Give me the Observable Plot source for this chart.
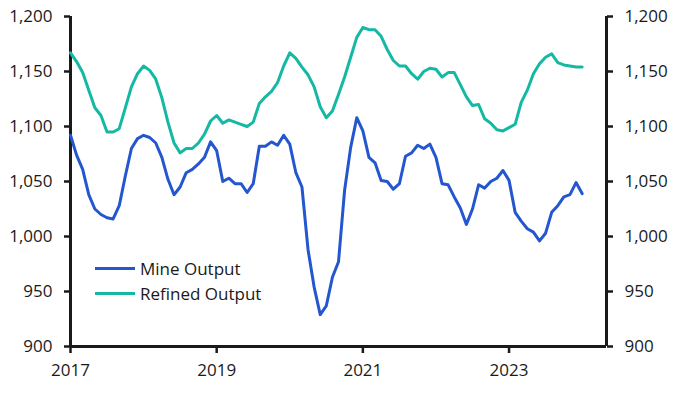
<!DOCTYPE html>
<html>
<head>
<meta charset="utf-8">
<script src="https://cdn.jsdelivr.net/npm/d3@7"></script>
<script src="https://cdn.jsdelivr.net/npm/@observablehq/plot@0.6"></script>
<style>
  html, body { margin: 0; padding: 0; background: #fff; }
  #wrap { position: relative; width: 681px; height: 393px; font-family: "Open Sans", sans-serif; }
  .leg { position: absolute; left: 95px; height: 24px; display: flex; align-items: center; font-size: 17px; color: #1a1a1a; white-space: nowrap; }
  .leg .sw { width: 40px; height: 3px; margin-right: 5px; }
</style>
</head>
<body>
<div id="wrap"></div>
<script>
// Monthly series, Jan 2017 .. Jan 2024
const startYear = 2017;
const seriesNames = ["Mine Output", "Refined Output"];
const seriesColors = ["#2356cf", "#15b8a3"];

const mine = [
  1092,1074,1061,1038,1025,1020,1017,1016,1028,1055,1080,1089,
  1092,1090,1085,1072,1052,1038,1045,1058,1061,1066,1072,1086,
  1078,1050,1053,1048,1048,1040,1048,1082,1082,1086,1083,1092,
  1084,1058,1045,988,954,929,937,963,977,1042,1081,1108,
  1096,1072,1067,1051,1050,1043,1048,1073,1076,1083,1080,1084,
  1072,1048,1047,1036,1026,1011,1025,1047,1044,1050,1053,1060,
  1051,1022,1014,1007,1004,996,1003,1022,1028,1036,1038,1049,
  1039
];

const refined = [
  1167,1159,1149,1133,1117,1110,1095,1095,1098,1117,1136,1148,
  1155,1151,1143,1126,1104,1085,1076,1080,1080,1085,1093,1105,
  1110,1103,1106,1104,1102,1100,1104,1121,1127,1132,1140,1155,
  1167,1162,1154,1147,1136,1118,1108,1114,1129,1145,1163,1181,
  1190,1188,1188,1182,1170,1160,1155,1155,1148,1143,1150,1153,
  1152,1145,1149,1149,1138,1127,1119,1120,1107,1103,1097,1096,
  1099,1102,1122,1133,1148,1157,1163,1166,1158,1156,1155,1154,
  1154
];

const xTicks = [2017, 2019, 2021, 2023];
const yTicks = [900, 950, 1000, 1050, 1100, 1150, 1200];
const xDomain = [2017, 2024 + 4 / 12];
const yDomain = [900, 1200];

const table = [];
mine.forEach((v, i) => table.push({t: startYear + i / 12, v, s: seriesNames[0]}));
refined.forEach((v, i) => table.push({t: startYear + i / 12, v, s: seriesNames[1]}));

const ink = "#1a1a1a";
const chart = Plot.plot({
  width: 681,
  height: 393,
  marginLeft: 70,
  marginRight: 75,
  marginTop: 16,
  marginBottom: 47,
  style: {fontFamily: "Open Sans, sans-serif", fontSize: "17px", color: ink, background: "#fff"},
  x: {type: "linear", domain: xDomain},
  y: {domain: yDomain},
  color: {domain: seriesNames, range: seriesColors},
  marks: [
    Plot.axisY({anchor: "left", ticks: yTicks, tickFormat: d3.format(","), tickSize: 6, tickPadding: 12, strokeWidth: 2.5, label: null}),
    Plot.axisY({anchor: "right", ticks: yTicks, tickFormat: d3.format(","), tickSize: 6, tickPadding: 12, strokeWidth: 2.5, label: null}),
    Plot.axisX({ticks: xTicks, tickFormat: d => String(d), tickSize: 7, tickPadding: 10, strokeWidth: 2.5, label: null}),
    Plot.ruleX(xDomain, {stroke: ink, strokeWidth: 3}),
    Plot.ruleY([yDomain[0]], {stroke: ink, strokeWidth: 3}),
    Plot.lineY(table, {x: "t", y: "v", z: "s", stroke: "s", strokeWidth: 3, strokeLinejoin: "round"})
  ]
});
const wrap = document.getElementById("wrap");
wrap.appendChild(chart);

const legTops = [256, 281];
seriesNames.forEach((name, i) => {
  const row = document.createElement("div");
  row.className = "leg";
  row.style.top = legTops[i] + "px";
  const sw = document.createElement("span");
  sw.className = "sw";
  sw.style.background = seriesColors[i];
  const tx = document.createElement("span");
  tx.textContent = name;
  row.appendChild(sw);
  row.appendChild(tx);
  wrap.appendChild(row);
});
</script>
</body>
</html>
